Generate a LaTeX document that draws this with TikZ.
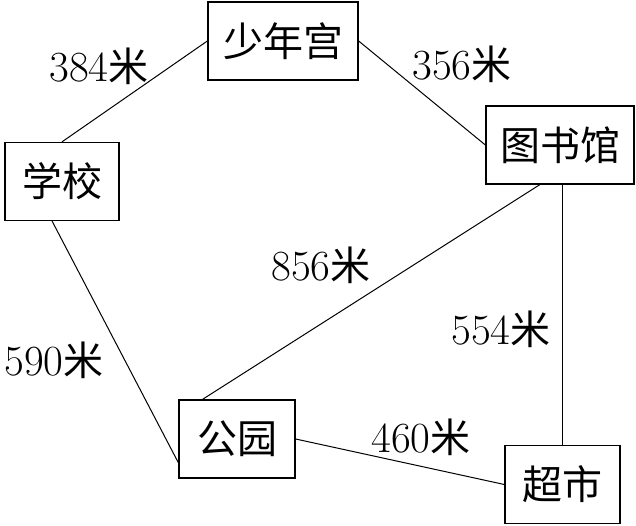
\documentclass[tikz,border=0pt]{standalone}
\usepackage{fontspec}
\newfontfamily\cjk{Noto Sans CJK SC}
\begin{document}
\begin{tikzpicture}[x=1pt, y=-1pt, thick,
    place/.style={draw, line width=1.3pt, inner sep=0pt, minimum height=78pt, font=\cjk\fontsize{40}{48}\selectfont},
    road/.style={line width=1pt},
    dist/.style={inner sep=0pt, font=\fontsize{43}{52}\selectfont}]
  \useasboundingbox (0,0) rectangle (636,526);

  % 1. 地点方框 (中心与宽度按原图量取)
  \node[place, minimum width=150pt] (palace)  at (283,41)    {少年宫};
  \node[place, minimum width=114pt] (school)  at (62,181.5)  {学校};
  \node[place, minimum width=148pt] (library) at (560,145)   {图书馆};
  \node[place, minimum width=116pt] (park)    at (237,439)   {公园};
  \node[place, minimum width=115pt] (market)  at (562.5,484.5) {超市};

  % 2. 道路连线
  \draw[road] (school.north) -- (palace.west);
  \draw[road] (palace.east) -- (library.west);
  \draw[road] (school.256) -- (park.202);
  \draw[road] (library.243) -- (park.131);
  \draw[road] (market.north) -- (market.north |- library.south);
  \draw[road] (park.east) -- (market.west);

  % 3. 距离标注
  \node[dist] (d-school-palace)  at (99,66)  {384{\cjk\fontsize{40}{48}\selectfont 米}};
  \node[dist] (d-palace-library) at (462,64) {356{\cjk\fontsize{40}{48}\selectfont 米}};
  \node[dist] (d-library-park)   at (321,265) {856{\cjk\fontsize{40}{48}\selectfont 米}};
  \node[dist] (d-school-park)    at (54,360) {590{\cjk\fontsize{40}{48}\selectfont 米}};
  \node[dist] (d-library-market) at (501,329) {554{\cjk\fontsize{40}{48}\selectfont 米}};
  \node[dist] (d-park-market)    at (421,437) {460{\cjk\fontsize{40}{48}\selectfont 米}};
\end{tikzpicture}
\end{document}
